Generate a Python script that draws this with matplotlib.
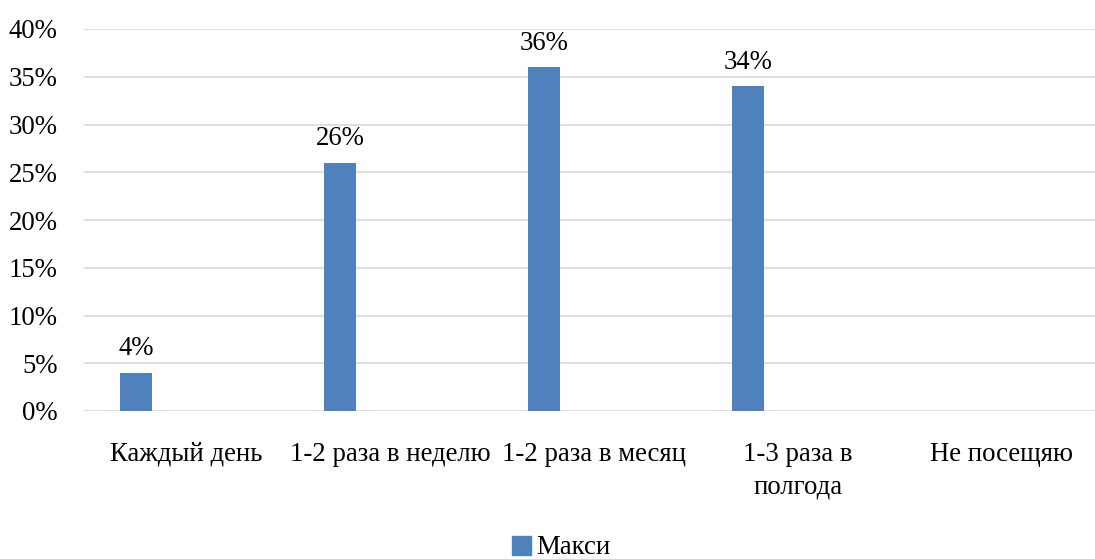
import matplotlib
matplotlib.use("Agg")
import matplotlib.pyplot as plt
from matplotlib.patches import Patch
import numpy as np

categories = ["Каждый день", "1-2 раза в неделю", "1-2 раза в месяц", "1-3 раза в\nполгода", "Не посещяю"]
maxi = [4, 26, 36, 34, 0]
y_ticks = [0, 5, 10, 15, 20, 25, 30, 35, 40]
series_name = "Макси"

plt.rcParams['font.family'] = ['Liberation Serif', 'DejaVu Serif']
FS = 19.3
color = "#4F81BD"

fig = plt.figure(figsize=(10.95, 5.59), dpi=100)
W, H = 1095, 559
left, right = 84 / W, 1104 / W
bottom, top = 1 - 411 / H, 1 - 29 / H
ax = fig.add_axes([left, bottom, right - left, top - bottom])

x = np.arange(len(categories))
offset = -0.245
bw = 0.157
ax.bar(x + offset, maxi, width=bw, color=color, zorder=3)
for xi, v in zip(x, maxi):
    if v > 0:
        ax.text(xi + offset, v + 1.2, f"{v}%", ha="center", va="bottom", fontsize=FS)

ax.set_xlim(-0.5, len(categories) - 0.5)
ax.set_ylim(0, 40)
ax.set_yticks(y_ticks)
ax.set_yticklabels([f"{t}%" for t in y_ticks], fontsize=FS)
ax.set_xticks(x)
ax.set_xticklabels(categories, fontsize=FS, linespacing=1.4, va="top")
ax.tick_params(axis="both", length=0)
ax.tick_params(axis="x", pad=22)
ax.tick_params(axis="y", pad=19)
ax.grid(axis="y", color="#D9D9D9", linewidth=1.2, zorder=0)
for s in ax.spines.values():
    s.set_visible(False)

fig.legend(handles=[Patch(color=color)], labels=[series_name], loc="center",
           bbox_to_anchor=(561 / W, 1 - 548 / H), frameon=False, fontsize=FS,
           handlelength=0.7, handleheight=0.7, handletextpad=0.2)

fig.savefig("out.png", dpi=100)
